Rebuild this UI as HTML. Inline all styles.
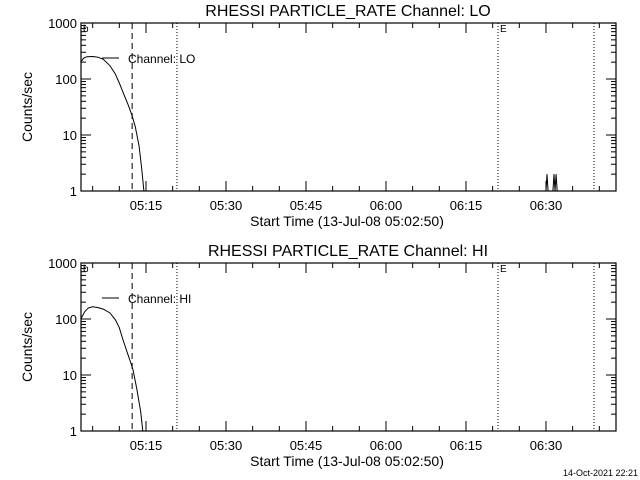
<!DOCTYPE html>
<html><head><meta charset="utf-8"><style>
html,body{margin:0;padding:0;background:#fff;}
svg{display:block;font-family:"Liberation Sans",sans-serif;}
</style></head><body>
<svg id="c" width="640" height="480" xmlns="http://www.w3.org/2000/svg">
<rect width="640" height="480" fill="#fff"/>
<text x="638" y="476" font-size="9" text-anchor="end">14-Oct-2021 22:21</text>
</svg>
<script>
// minutes after 05:00
var loTimes=[2.8,3.3,3.9,5.0,6.0,7.0,8.2,9.2,10.0,10.9,11.8,12.4,13.0,13.7,14.2,14.6];
var loValues=[200,235,250,252,245,225,175,125,85,52,32,22,14,6.3,2.5,1];
var loSpikeTimes=[90.0,90.2,90.4,91.3,91.5,91.7,91.9,92.1];
var loSpikeValues=[1,2,1,1,2,1,2,1];
var hiTimes=[2.8,3.5,4.2,5.0,6.0,7.0,8.25,9.3,10.0,10.7,11.5,12.2,12.6,13.3,14.0,14.4];
var hiValues=[100,135,158,165,160,150,128,95,70,42,25,16,12,5.5,2.2,1];
var xTickLabels=["05:15","05:30","05:45","06:00","06:15","06:30"];
var xTickMinutes=[15,30,45,60,75,90];
var yTickLabels=["1","10","100","1000"];
var yTickValues=[1,10,100,1000];
var dashedT=12.4, dotted=[20.8,81,99];
var NS="http://www.w3.org/2000/svg";
var svg=document.getElementById('c');
function el(t,a,p){var e=document.createElementNS(NS,t);for(var k in a)e.setAttribute(k,a[k]);(p||svg).appendChild(e);return e;}
var X0=81,X1=616,PXM=5.333;
function xs(t){return 146+(t-15)*PXM;}
function panel(off,title,chan,times,vals,spT,spV,pname){
  var top=23+off,bot=191+off,dec=56;
  function ys(v){return bot-Math.log10(Math.max(v,1))*dec;}
  var g=el('g',{});
  
  
  var f=el('rect',{x:X0,y:top,width:X1-X0,height:bot-top,fill:'none',stroke:'#000','stroke-width':1.2},g);
  
  
  var tt=el('text',{x:348,y:top-7,'font-size':16,'text-anchor':'middle'},g);tt.textContent=title;
  
  
  for(var d=0;d<3;d++)for(var m=2;m<=9;m++){var y=ys(Math.pow(10,d)*m);
    el('line',{x1:X0,x2:X0+5,y1:y,y2:y,stroke:'#000'},g);el('line',{x1:X1,x2:X1-5,y1:y,y2:y,stroke:'#000'},g);}
  yTickValues.forEach(function(v,i){var y=ys(v);
    el('line',{x1:X0,x2:X0+10,y1:y,y2:y,stroke:'#000'},g);el('line',{x1:X1,x2:X1-10,y1:y,y2:y,stroke:'#000'},g);
    var t=el('text',{x:X0-4,y:y+5,'font-size':13,'text-anchor':'end'},g);t.textContent=yTickLabels[i];
    
    });
  for(var mm=5;mm<=100;mm+=5){var x=xs(mm);if(x<=X0||x>=X1)continue;var L=(mm%15==0)?10:5;
    el('line',{x1:x,x2:x,y1:bot,y2:bot-L,stroke:'#000'},g);el('line',{x1:x,x2:x,y1:top,y2:top+L,stroke:'#000'},g);}
  xTickMinutes.forEach(function(mm,i){var t=el('text',{x:xs(mm),y:bot+19,'font-size':13,'text-anchor':'middle'},g);t.textContent=xTickLabels[i];
    
    });
  var xt=el('text',{x:347,y:bot+35,'font-size':14,'text-anchor':'middle'},g);xt.textContent='Start Time (13-Jul-08 05:02:50)';
  
  
  var yt=el('text',{x:0,y:0,'font-size':14,'text-anchor':'middle',transform:'translate(32,'+(top+84)+') rotate(-90)'},g);yt.textContent='Counts/sec';
  
  
  el('line',{x1:xs(dashedT),x2:xs(dashedT),y1:top,y2:bot,stroke:'#000','stroke-dasharray':'6,4'},g);
  dotted.forEach(function(t){el('line',{x1:xs(t),x2:xs(t),y1:top,y2:bot,stroke:'#000','stroke-dasharray':'1,2'},g);});
  var b=el('text',{x:X0+2,y:top+9,'font-size':10},g);b.textContent='b';
  var e=el('text',{x:xs(81)+2,y:top+9,'font-size':10},g);e.textContent='E';
  el('line',{x1:102,x2:119,y1:top+35,y2:top+35,stroke:'#000'},g);
  var lt=el('text',{x:128,y:top+40,'font-size':12},g);lt.textContent='Channel: '+chan;
  
  
  var pts=times.map(function(t,i){return xs(t).toFixed(1)+','+ys(vals[i]).toFixed(1);}).join(' ');
  var pl=el('polyline',{points:pts,fill:'none',stroke:'#000','stroke-width':1},g);
  
  
  if(spT.length){var p2=spT.map(function(t,i){return xs(t).toFixed(1)+','+ys(spV[i]).toFixed(1);}).join(' ');
    var sp=el('polyline',{points:p2,fill:'none',stroke:'#000'},g);
    
    }
}
panel(0,'RHESSI PARTICLE_RATE Channel: LO','LO',loTimes,loValues,loSpikeTimes,loSpikeValues,'panel-lo');
panel(240,'RHESSI PARTICLE_RATE Channel: HI','HI',hiTimes,hiValues,[],[],'panel-hi');
</script>
</body></html>
